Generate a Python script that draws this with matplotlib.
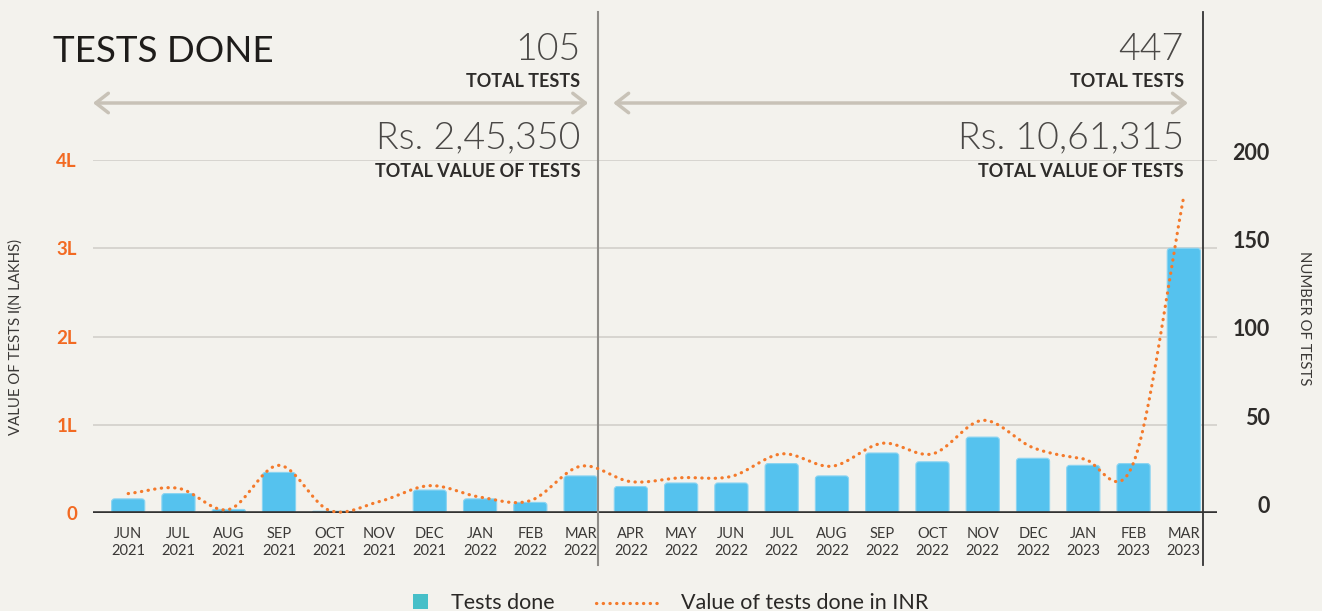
import numpy as np
import matplotlib
matplotlib.use("Agg")
import matplotlib.pyplot as plt
import matplotlib.transforms as mtrans
from matplotlib.lines import Line2D
from matplotlib.patches import Rectangle, FancyBboxPatch
from matplotlib import font_manager as fm

plt.rcParams['font.family'] = ['Lato', 'DejaVu Sans']

# ---------------- data ----------------
months = ['JUN', 'JUL', 'AUG', 'SEP', 'OCT', 'NOV', 'DEC', 'JAN', 'FEB', 'MAR',
          'APR', 'MAY', 'JUN', 'JUL', 'AUG', 'SEP', 'OCT', 'NOV', 'DEC', 'JAN', 'FEB', 'MAR']
years = ['2021'] * 7 + ['2022'] * 12 + ['2023'] * 3
tests_done = [8, 11, 2, 23, 1, 0, 13, 8, 6, 21,
              15, 17, 17, 28, 21, 34, 29, 43, 31, 27, 28, 150]
value_lakhs = [0.22, 0.28, 0.04, 0.54, 0.03, 0.13, 0.31, 0.18, 0.14, 0.53,
               0.355, 0.40, 0.415, 0.67, 0.53, 0.79, 0.67, 1.05, 0.74, 0.615, 0.57, 3.59]
value_ticks = [0, 1, 2, 3, 4]
value_tick_labels = ['0', '1L', '2L', '3L', '4L']
count_ticks = [0, 50, 100, 150, 200]
period_totals = ['105', '447']
period_values = ['Rs. 2,45,350', 'Rs. 10,61,315']

# ---------------- style ----------------
BG = '#F3F2ED'
GRID = '#D4D2CD'
ORANGE_TXT = '#F26A22'
LINE_C = '#F47A2B'
BAR_C = '#55C2EE'
LEG_SQ = '#46BFC8'
DARK = '#2E2C2A'
LIGHT_TXT = '#4A4846'
ARROW_C = '#C8C2B7'

light_path = None
for f in fm.fontManager.ttflist:
    if f.fname.endswith('Lato-Light.ttf'):
        light_path = f.fname
        break
if light_path:
    LIGHT_FP = fm.FontProperties(fname=light_path)
else:
    LIGHT_FP = fm.FontProperties(family='Lato', weight='light')

W, H = 1322, 611
fig = plt.figure(figsize=(W / 100, H / 100), dpi=100, facecolor=BG)


def fx(px):
    return px / W


def fy(py):
    return 1 - py / H


AX_L, AX_R, AX_T, AX_B = 93, 1217, 160, 513
ax = fig.add_axes([fx(AX_L), fy(AX_B), (AX_R - AX_L) / W, (AX_B - AX_T) / H])
ax2 = ax.twinx()
ax.set_zorder(2)
ax2.set_zorder(1)
ax.patch.set_visible(False)
ax2.patch.set_visible(False)

idx = np.arange(len(tests_done))
XMIN, XMAX = -0.70, 21.66
ax.set_xlim(XMIN, XMAX)
ax.set_ylim(0, 4)
ax2.set_ylim(0, 200)

# grid lines (behind bars)
for v in count_ticks[1:]:
    ax2.axhline(v, color=GRID, lw=1.3, zorder=0)

# bars with slightly rounded tops
bars = ax2.bar(idx, tests_done, width=0.66, color=BAR_C, zorder=2)
px_per_x = (AX_R - AX_L) / (XMAX - XMIN)
px_per_test = (AX_B - AX_T) / 200.0
aspect = px_per_x / px_per_test
for r in bars.patches:
    r.set_visible(False)
    h = r.get_height()
    if h <= 0:
        continue
    rad_px = min(3.0, h * px_per_test / 2.0)
    rs = rad_px / px_per_x
    fb = FancyBboxPatch((r.get_x(), r.get_y()), r.get_width(), h,
                        boxstyle=f"round,pad=0,rounding_size={rs}",
                        mutation_aspect=aspect, facecolor=BAR_C,
                        edgecolor='#8AD4F2', linewidth=0.8, zorder=2)
    ax2.add_patch(fb)
ax2.axhline(0, color='#333333', lw=2.6, zorder=3)

# smoothed line (Catmull-Rom through the data points)
vals = np.asarray(value_lakhs, dtype=float)
tang = np.gradient(vals)
xs, ys = [], []
for i in range(len(vals) - 1):
    t = np.linspace(0, 1, 30, endpoint=(i == len(vals) - 2))
    h00 = 2 * t**3 - 3 * t**2 + 1
    h10 = t**3 - 2 * t**2 + t
    h01 = -2 * t**3 + 3 * t**2
    h11 = t**3 - t**2
    xs.append(i + t)
    ys.append(h00 * vals[i] + h10 * tang[i] + h01 * vals[i + 1] + h11 * tang[i + 1])
xs = np.concatenate(xs)
ys = np.concatenate(ys)
ax.plot(xs, ys, color=LINE_C, lw=2.3, linestyle=(0, (0.1, 2.0)),
        dash_capstyle='round', zorder=5, clip_on=False)

# ticks
ax.set_xticks(idx, [f'{m}\n{y}' for m, y in zip(months, years)])
ax.tick_params(axis='x', length=0, pad=10, labelsize=10.5, labelcolor='#3A3836')
for lab in ax.get_xticklabels():
    lab.set_linespacing(1.3)

ax.set_yticks(value_ticks, value_tick_labels)
ax.tick_params(axis='y', length=0, pad=11.5, labelsize=13.5, labelcolor=ORANGE_TXT)
for lab in ax.get_yticklabels():
    lab.set_fontweight('bold')

ax2.set_yticks(count_ticks, [str(c) for c in count_ticks])
ax2.tick_params(axis='y', length=0, pad=38, labelsize=15.5, labelcolor=DARK)
for lab in ax2.get_yticklabels():
    lab.set_fontweight('bold')
    lab.set_ha('right')
    lab.set_va('baseline')

for a in (ax, ax2):
    for s in a.spines.values():
        s.set_visible(False)

# axis titles
fig.text(fx(16), fy(337), 'VALUE OF TESTS I(N LAKHS)', rotation=90, ha='center', va='center',
         fontsize=10.7, color='#3A3836')
fig.text(fx(1304), fy(318), 'NUMBER OF TESTS', rotation=-90, ha='center', va='center',
         fontsize=10.7, color='#3A3836')

# separators
trans = mtrans.blended_transform_factory(ax.transData, fig.transFigure)
ax.plot([9.35, 9.35], [fy(12), fy(565)], transform=trans, clip_on=False, color='#8E8C88', lw=1.5, zorder=1)
ax.plot([21.38, 21.38], [fy(12), fy(565)], transform=trans, clip_on=False, color='#333333', lw=1.3, zorder=1)

# arrows
for x0, x1 in [(-0.70, 9.15), (9.65, 21.08)]:
    ax.annotate('', xy=(x1, fy(103)), xytext=(x0, fy(103)), xycoords=trans, textcoords=trans,
                arrowprops=dict(arrowstyle='<->,head_length=0.9,head_width=0.7', color=ARROW_C,
                                lw=2.5, shrinkA=0, shrinkB=0), annotation_clip=False)

# title & stats
fig.text(fx(53), fy(62), 'TESTS DONE', fontsize=26.5, color='#1E1C1A', ha='left', va='baseline')
for xr, tot, val in [(9.0, period_totals[0], period_values[0]), (21.0, period_totals[1], period_values[1])]:
    ax.text(xr, fy(60), tot, transform=trans, ha='right', va='baseline', fontsize=27,
            fontproperties=LIGHT_FP, color=LIGHT_TXT)
    ax.text(xr, fy(87), 'TOTAL TESTS', transform=trans, ha='right', va='baseline', fontsize=13,
            fontweight='bold', color=DARK)
    ax.text(xr, fy(148), val, transform=trans, ha='right', va='baseline', fontsize=27,
            fontproperties=LIGHT_FP, color=LIGHT_TXT)
    ax.text(xr, fy(177), 'TOTAL VALUE OF TESTS', transform=trans, ha='right', va='baseline', fontsize=13,
            fontweight='bold', color=DARK)

# legend (manual, figure coordinates)
fig.patches.append(Rectangle((fx(413), fy(609)), 15 / W, 15 / H, transform=fig.transFigure,
                             facecolor=LEG_SQ, edgecolor='none'))
fig.text(fx(451), fy(609), 'Tests done', fontsize=15.5, color='#2A2826', ha='left', va='baseline')
fig.add_artist(Line2D([fx(596), fx(662)], [fy(603), fy(603)], transform=fig.transFigure,
                      color=LINE_C, lw=2.3, linestyle=(0, (0.1, 2.0)), dash_capstyle='round'))
fig.text(fx(681), fy(609), 'Value of tests done in INR', fontsize=15.5, color='#2A2826',
         ha='left', va='baseline')

fig.savefig('out.png', dpi=100, facecolor=BG)
